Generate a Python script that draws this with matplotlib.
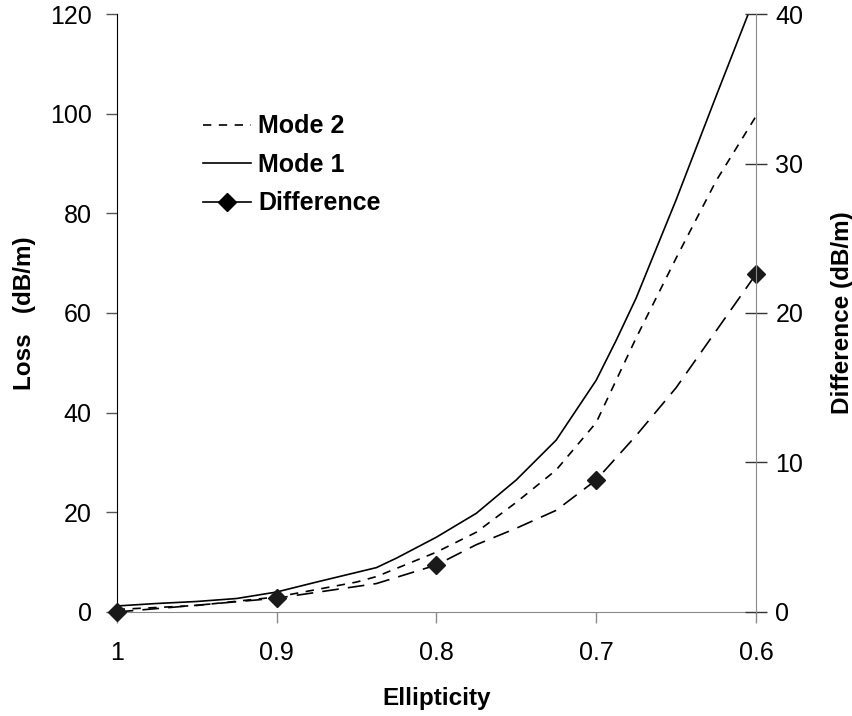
import matplotlib.pyplot as plt
from matplotlib.lines import Line2D

plt.rcParams['font.family'] = ['Liberation Sans', 'DejaVu Sans']

# Mode 1 (solid) loss, dB/m
e_mode1 = [1.00, 0.975, 0.95, 0.925, 0.90, 0.875, 0.8375, 0.825, 0.80, 0.775,
           0.75, 0.725, 0.70, 0.6875, 0.675, 0.65, 0.625, 0.60]
loss_mode1 = [1.2, 1.7, 2.1, 2.7, 4.0, 6.0, 8.9, 10.8, 15.0, 19.8,
              26.5, 34.5, 46.5, 54.5, 63.0, 82.7, 103.5, 124.0]

# Mode 2 (short dash) loss, dB/m
e_mode2 = [1.00, 0.95, 0.90, 0.85, 0.8375, 0.80, 0.775, 0.75, 0.725, 0.70,
           0.675, 0.65, 0.625, 0.60]
loss_mode2 = [0.5, 1.3, 3.0, 6.0, 7.1, 12.0, 16.0, 22.0, 28.5, 38.0,
              55.0, 71.0, 86.5, 99.5]

# Difference (long dash, right axis), dB/m
e_diff = [1.00, 0.95, 0.90, 0.8375, 0.80, 0.775, 0.75, 0.725, 0.70,
          0.675, 0.65, 0.625, 0.60]
diff = [0.0, 0.45, 0.92, 1.9, 3.14, 4.5, 5.6, 6.8, 8.83,
        11.8, 15.0, 18.8, 22.6]
e_marks = [1.0, 0.9, 0.8, 0.7, 0.6]

x_ticks = [1.0, 0.9, 0.8, 0.7, 0.6]
x_labels = ['1', '0.9', '0.8', '0.7', '0.6']

fig = plt.figure(figsize=(8.53, 7.16), dpi=100)
ax1 = fig.add_axes([0.1368, 0.1453, 0.7495, 0.8351])
ax2 = ax1.twinx()

ax1.plot(e_mode1, loss_mode1, color='black', linewidth=1.2)
ax1.plot(e_mode2, loss_mode2, color='black', linewidth=1.2, dashes=(5, 4.5))
ax2.plot(e_diff, diff, color='black', linewidth=1.2, dashes=(10, 5.5))
mark_idx = [e_diff.index(v) for v in e_marks]
ax2.plot([e_diff[i] for i in mark_idx], [diff[i] for i in mark_idx],
         linestyle='none', marker='D', markersize=9, color='#1a1a1a', clip_on=False)

ax1.set_xlim(1.0, 0.6)
ax1.set_ylim(0, 120)
ax2.set_ylim(0, 40)
ax1.set_xticks(x_ticks)
ax1.set_xticklabels(x_labels)
ax1.set_yticks(range(0, 121, 20))
ax2.set_yticks(range(0, 41, 10))

ax1.spines['top'].set_visible(False)
ax2.spines['top'].set_visible(False)
ax2.spines['left'].set_visible(False)
ax1.spines['right'].set_visible(False)
ax1.spines['left'].set_color('black')
ax1.spines['bottom'].set_color('#8a8a8a')
ax2.spines['right'].set_color('#8a8a8a')
ax2.spines['bottom'].set_visible(False)

ax1.tick_params(axis='y', direction='out', length=8, width=1, color='#555555',
                labelsize=18, pad=10)
ax1.tick_params(axis='x', direction='out', length=8, width=1, color='#8a8a8a',
                labelsize=18, pad=13)
ax2.tick_params(axis='y', direction='inout', length=16, width=1, color='#333333',
                labelsize=18, pad=6)

ax1.set_xlabel('Ellipticity', fontsize=17.5, fontweight='bold', labelpad=16)
ax1.set_ylabel('Loss   (dB/m)', fontsize=17.5, fontweight='bold', labelpad=10)
ax2.set_ylabel('Difference (dB/m)', fontsize=17.5, fontweight='bold', labelpad=20)

handles = [
    Line2D([], [], color='black', linewidth=1.2, dashes=(5, 4.5)),
    Line2D([], [], color='black', linewidth=1.2),
    Line2D([], [], color='black', linewidth=1.2, marker='D', markersize=9),
]
leg = ax1.legend(handles, ['Mode 2', 'Mode 1', 'Difference'], loc='upper left',
                 bbox_to_anchor=(0.1, 0.87), frameon=False, handlelength=1.9,
                 handletextpad=0.3, labelspacing=0.58, prop={'size': 18, 'weight': 'bold'})

fig.savefig('out.png', dpi=100)
